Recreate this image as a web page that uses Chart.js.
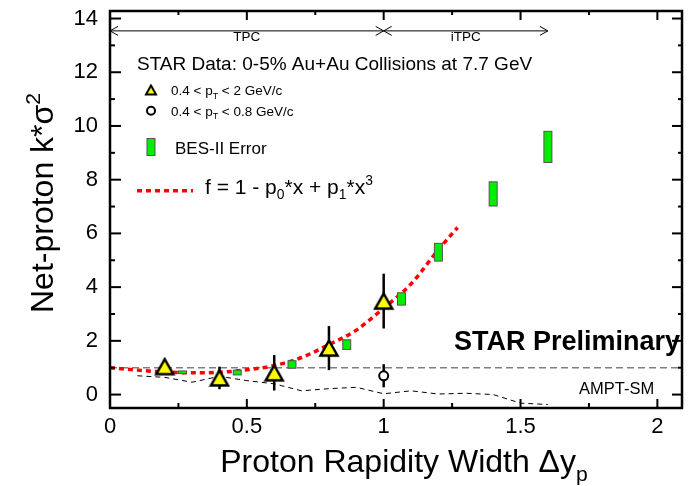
<!DOCTYPE html>
<html lang="en">
<head>
<meta charset="UTF-8">
<title>Net-proton kappa*sigma2 vs proton rapidity width</title>
<script src="https://cdn.jsdelivr.net/npm/chart.js"></script>
<style>
  body { margin: 0; padding: 0; background: #fff; }
  #wrap { width: 693px; height: 486px; position: relative; }
</style>
</head>
<body>
<div id="wrap"><canvas id="chart"></canvas></div>
<script>
// STAR data, 0.4 < pT < 2 GeV/c
const dyTriangle = [0.2, 0.4, 0.6, 0.8, 1.0];
const kappaTriangle = [1.04, 0.62, 0.81, 1.73, 3.48];
const errTriangle = [0.15, 0.42, 0.66, 0.82, 1.02];

// STAR data, 0.4 < pT < 0.8 GeV/c
const dyCircle = [1.0];
const kappaCircle = [0.70];
const errCircle = [0.43];

// BES-II projected errors
const dyBes = [0.265, 0.465, 0.665, 0.865, 1.065, 1.2, 1.4, 1.6];
const kappaBes = [0.83, 0.82, 1.12, 1.86, 3.56, 5.3, 7.47, 9.22];
const errBes = [0.05, 0.09, 0.14, 0.18, 0.23, 0.33, 0.45, 0.58];

// fit f = 1 - p0*x + p1*x^3
const dyFit = [0, 0.1, 0.2, 0.3, 0.4, 0.5, 0.6, 0.7, 0.8, 0.9, 1.0, 1.1, 1.2, 1.27];
const kappaFit = [1.0, 0.91, 0.84, 0.81, 0.83, 0.92, 1.08, 1.38, 1.86, 2.40, 3.22, 4.12, 5.40, 6.22];

// AMPT-SM
const dyAmpt = [0.1, 0.2, 0.3, 0.4, 0.5, 0.6, 0.7, 0.8, 0.9, 1.0, 1.1, 1.2, 1.3, 1.4, 1.5, 1.6];
const kappaAmpt = [0.70, 0.64, 0.46, 0.68, 0.52, 0.40, 0.14, 0.22, 0.27, 0.03, 0.14, 0.02, 0.05, 0.0, -0.32, -0.37];

// Poisson baseline
const dyUnity = [0, 2.09];
const kappaUnity = [1, 1];

// detector acceptance arrows
const detRanges = [[0, 1], [1, 1.6]];
const detLabels = ['TPC', 'iTPC'];
const detArrowY = 13.54;

// axes
const xMin = 0, xMax = 2.09, yMin = -0.5, yMax = 14.28;
const xTickValues = [0, 0.5, 1, 1.5, 2];
const xTickLabels = ['0', '0.5', '1', '1.5', '2'];
const yTickValues = [0, 2, 4, 6, 8, 10, 12, 14];
const yTickLabels = ['0', '2', '4', '6', '8', '10', '12', '14'];

const FONT = '"Liberation Sans", Arial, Helvetica, sans-serif';

function pts(xs, ys) { return xs.map((x, i) => ({ x: x, y: ys[i] })); }

// ROOT-like triangle: centred on its bounding box
function triangleMarker(w, h, lw) {
  const c = document.createElement('canvas');
  c.width = w + 2 * lw; c.height = h + 2 * lw;
  const g = c.getContext('2d');
  g.beginPath();
  g.moveTo(c.width / 2, lw);
  g.lineTo(c.width - lw, lw + h);
  g.lineTo(lw, lw + h);
  g.closePath();
  g.fillStyle = '#ffff00';
  g.fill();
  g.lineWidth = lw;
  g.strokeStyle = '#000';
  g.stroke();
  return c;
}

// text with sub/superscripts
function richText(ctx, runs, x, y, size, align) {
  let total = 0;
  const parts = runs.map(r => {
    const s = r.pos ? size * 0.66 : size;
    ctx.font = s + 'px ' + FONT;
    const w = ctx.measureText(r.t).width;
    total += w;
    return { t: r.t, s: s, w: w, dy: r.pos === 'sub' ? size * 0.28 : (r.pos === 'sup' ? -size * 0.42 : 0) };
  });
  let cx = align === 'center' ? x - total / 2 : (align === 'right' ? x - total : x);
  ctx.textAlign = 'left';
  ctx.textBaseline = 'alphabetic';
  parts.forEach(p => {
    ctx.font = p.s + 'px ' + FONT;
    ctx.fillText(p.t, cx, y + p.dy);
    cx += p.w;
  });
}

function line(ctx, x1, y1, x2, y2) {
  ctx.beginPath(); ctx.moveTo(x1, y1); ctx.lineTo(x2, y2); ctx.stroke();
}

const errorPlugin = {
  id: 'errors',
  beforeDatasetDraw(chart, args) {
    if (args.index !== 1) return;
    const ctx = chart.ctx, xs = chart.scales.x, ys = chart.scales.y;
    ctx.save();
    // BES-II boxes
    dyBes.forEach((x, i) => {
      const px = xs.getPixelForValue(x);
      const top = ys.getPixelForValue(kappaBes[i] + errBes[i]);
      const bot = ys.getPixelForValue(kappaBes[i] - errBes[i]);
      ctx.fillStyle = '#00ee00';
      ctx.fillRect(px - 4, top, 8, bot - top);
      ctx.strokeStyle = '#555';
      ctx.lineWidth = 1;
      ctx.strokeRect(px - 4, top, 8, bot - top);
    });
    // statistical error bars
    ctx.strokeStyle = '#000';
    ctx.lineWidth = 2.5;
    const bars = (xArr, yArr, eArr) => xArr.forEach((x, i) => {
      const px = xs.getPixelForValue(x);
      line(ctx, px, ys.getPixelForValue(yArr[i] + eArr[i]), px, ys.getPixelForValue(yArr[i] - eArr[i]));
    });
    bars(dyTriangle, kappaTriangle, errTriangle);
    bars(dyCircle, kappaCircle, errCircle);
    ctx.restore();
  }
};

const decorPlugin = {
  id: 'decor',
  afterDraw(chart) {
    const ctx = chart.ctx, a = chart.chartArea, xs = chart.scales.x, ys = chart.scales.y;
    ctx.save();
    ctx.fillStyle = '#000';
    ctx.strokeStyle = '#000';

    // inner ticks
    ctx.lineWidth = 2;
    for (let v = 0; v <= 14; v += 1) {
      const py = ys.getPixelForValue(v);
      const major = v % 2 === 0;
      line(ctx, a.left, py, a.left + (major ? 11 : 5), py);
      line(ctx, a.right, py, a.right - (major ? 10 : 4), py);
    }
    for (let v = 0.25; v <= 2; v += 0.25) {
      const px = xs.getPixelForValue(v);
      const major = Math.abs(v * 2 - Math.round(v * 2)) < 1e-6;
      line(ctx, px, a.bottom, px, a.bottom - (major ? 9 : 5));
      line(ctx, px, a.top, px, a.top + (major ? 9 : 4));
    }

    // frame
    ctx.lineWidth = 2.5;
    ctx.strokeRect(a.left, a.top, a.right - a.left, a.bottom - a.top);

    // detector arrows
    ctx.lineWidth = 1;
    const ay = ys.getPixelForValue(detArrowY);
    detRanges.forEach((r, i) => {
      const x1 = xs.getPixelForValue(r[0]), x2 = xs.getPixelForValue(r[1]);
      line(ctx, x1, ay, x2, ay);
      line(ctx, x1, ay, x1 + 8, ay - 4.5); line(ctx, x1, ay, x1 + 8, ay + 4.5);
      line(ctx, x2, ay, x2 - 8, ay - 4.5); line(ctx, x2, ay, x2 - 8, ay + 4.5);
      ctx.font = '13.5px ' + FONT;
      ctx.textAlign = 'center';
      ctx.fillText(detLabels[i], (x1 + x2) / 2, ay + 10.5);
    });

    // legend
    ctx.textAlign = 'left';
    ctx.font = '19px ' + FONT;
    ctx.fillText('STAR Data: 0-5% Au+Au Collisions at 7.7 GeV', 137, 70);

    ctx.drawImage(triangleMarker(10, 9, 2), 151 - 7, 90 - 6.5);
    richText(ctx, [{ t: '0.4 < p' }, { t: 'T', pos: 'sub' }, { t: ' < 2 GeV/c' }], 171, 95, 13.5, 'left');

    ctx.beginPath();
    ctx.arc(151, 110.7, 4, 0, Math.PI * 2);
    ctx.fillStyle = '#fff'; ctx.fill();
    ctx.lineWidth = 2; ctx.stroke();
    ctx.fillStyle = '#000';
    richText(ctx, [{ t: '0.4 < p' }, { t: 'T', pos: 'sub' }, { t: ' < 0.8 GeV/c' }], 171, 115.5, 13.5, 'left');

    ctx.fillStyle = '#00ee00';
    ctx.fillRect(147, 138.5, 8, 17);
    ctx.strokeStyle = '#555'; ctx.lineWidth = 1;
    ctx.strokeRect(147, 138.5, 8, 17);
    ctx.fillStyle = '#000'; ctx.strokeStyle = '#000';
    ctx.font = '17px ' + FONT;
    ctx.fillText('BES-II Error', 175, 154);

    ctx.save();
    ctx.strokeStyle = '#ff0000'; ctx.lineWidth = 3.5; ctx.setLineDash([5, 4]);
    line(ctx, 137, 190.7, 193, 190.7);
    ctx.restore();
    richText(ctx, [{ t: 'f = 1 - p' }, { t: '0', pos: 'sub' }, { t: '*x + p' }, { t: '1', pos: 'sub' }, { t: '*x' }, { t: '3', pos: 'sup' }], 205, 193.5, 21, 'left');

    ctx.font = 'bold 27px ' + FONT;
    ctx.textAlign = 'right';
    ctx.fillText('STAR Preliminary', 680, 349.5);

    ctx.font = '16.5px ' + FONT;
    ctx.textAlign = 'left';
    ctx.fillText('AMPT-SM', 579, 394);

    // axis titles
    richText(ctx, [{ t: 'Proton Rapidity Width \u0394y' }, { t: 'p', pos: 'sub' }], 404, 472, 32, 'center');
    ctx.save();
    ctx.translate(53, 203);
    ctx.rotate(-Math.PI / 2);
    richText(ctx, [{ t: 'Net-proton k*\u03c3' }, { t: '2', pos: 'sup' }], 0, 0, 32, 'center');
    ctx.restore();

    ctx.restore();
  }
};

new Chart(document.getElementById('chart'), {
  type: 'scatter',
  data: {
    datasets: [
      {
        label: '0.4 < pT < 2 GeV/c',
        data: pts(dyTriangle, kappaTriangle),
        pointStyle: triangleMarker(17, 15, 2.5),
        pointRadius: 10
      },
      {
        label: '0.4 < pT < 0.8 GeV/c',
        data: pts(dyCircle, kappaCircle),
        pointStyle: 'circle',
        pointRadius: 4.5,
        pointBackgroundColor: '#fff',
        pointBorderColor: '#000',
        pointBorderWidth: 2
      },
      {
        label: 'fit',
        data: pts(dyFit, kappaFit),
        showLine: true,
        pointRadius: 0,
        borderColor: '#ff0000',
        borderWidth: 3.5,
        borderDash: [5, 4],
        cubicInterpolationMode: 'monotone'
      },
      {
        label: 'AMPT-SM',
        data: pts(dyAmpt, kappaAmpt),
        showLine: true,
        pointRadius: 0,
        borderColor: '#000',
        borderWidth: 1,
        borderDash: [5, 4],
        tension: 0
      },
      {
        label: 'unity',
        data: pts(dyUnity, kappaUnity),
        showLine: true,
        pointRadius: 0,
        borderColor: '#808080',
        borderWidth: 1.5,
        borderDash: [7, 4]
      }
    ]
  },
  options: {
    responsive: true,
    maintainAspectRatio: false,
    animation: false,
    devicePixelRatio: 1,
    layout: { padding: { top: 7.5, right: 8, left: 0, bottom: 0 } },
    plugins: { legend: { display: false }, tooltip: { enabled: false } },
    scales: {
      x: {
        type: 'linear', min: xMin, max: xMax,
        grid: { display: false, drawTicks: false },
        border: { display: false },
        afterBuildTicks: s => { s.ticks = xTickValues.map(v => ({ value: v })); },
        afterFit: s => { s.height = 78; s.paddingLeft = 0; s.paddingRight = 0; },
        ticks: {
          padding: 6, color: '#000', maxRotation: 0,
          font: { family: FONT, size: 22 },
          callback: (v, i) => xTickLabels[i]
        }
      },
      y: {
        type: 'linear', min: yMin, max: yMax,
        grid: { display: false, drawTicks: false },
        border: { display: false },
        afterBuildTicks: s => { s.ticks = yTickValues.map(v => ({ value: v })); },
        afterFit: s => { s.width = 110; s.paddingTop = 0; s.paddingBottom = 0; },
        ticks: {
          padding: 12, color: '#000',
          font: { family: FONT, size: 22 },
          callback: (v, i) => yTickLabels[i]
        }
      }
    }
  },
  plugins: [errorPlugin, decorPlugin]
});
</script>
</body>
</html>
